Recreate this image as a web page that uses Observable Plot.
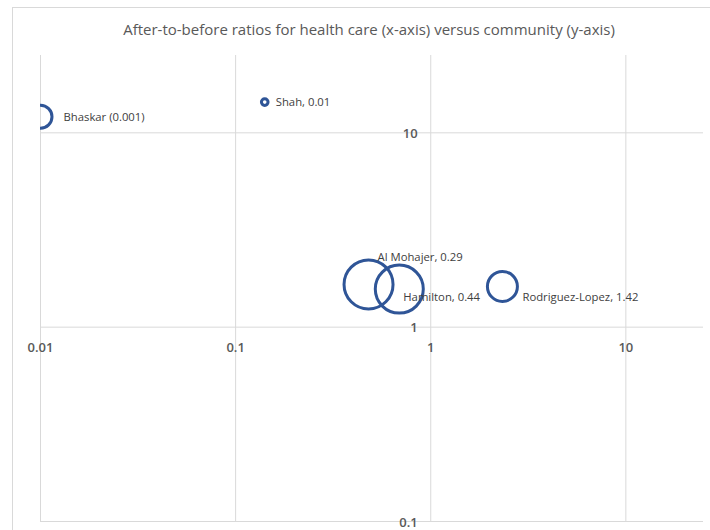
<!DOCTYPE html>
<html>
<head>
<meta charset="utf-8">
<script src="https://cdn.jsdelivr.net/npm/d3@7"></script>
<script src="https://cdn.jsdelivr.net/npm/@observablehq/plot@0.6"></script>
<style>
  html, body { margin: 0; padding: 0; background: #fff; }
  #wrap { position: relative; width: 710px; height: 530px; overflow: hidden; background: #fff; }
  #border { position: absolute; left: 12px; top: 7px; width: 800px; height: 600px; border-left: 1px solid #D9D9D9; border-top: 1px solid #D9D9D9; }
  #title { position: absolute; left: 0; top: 19px; width: 738px; text-align: center; font-family: "Open Sans", sans-serif; font-size: 15px; color: #595959; }
  #chart { position: absolute; left: 0; top: 0; }
</style>
</head>
<body>
<div id="wrap">
  <div id="border"></div>
  <div id="title">After-to-before ratios for health care (x-axis) versus community (y-axis)</div>
  <div id="chart"></div>
</div>
<script>
// Data
const names = ["Bhaskar", "Shah", "Al Mohajer", "Hamilton", "Rodriguez-Lopez"];
const labels = ["Bhaskar (0.001)", "Shah, 0.01", "Al Mohajer, 0.29", "Hamilton, 0.44", "Rodriguez-Lopez, 1.42"];
const healthCare = [0.01, 0.141, 0.48, 0.69, 2.33];   // x
const community = [12.1, 14.4, 1.66, 1.57, 1.62];      // y
const bubbleSize = [1.32, 0.11, 6.0, 5.76, 2.25];

const xTicks = [0.01, 0.1, 1, 10];
const xTickLabels = ["0.01", "0.1", "1", "10"];
const yTicks = [0.1, 1, 10];
const yTickLabels = ["0.1", "1", "10"];

const data = names.map((n, i) => ({name: n, label: labels[i], x: healthCare[i], y: community[i], s: bubbleSize[i]}));

const grid = "#D9D9D9";
const blue = "#2F5597";
const font = "Open Sans, sans-serif";

function lab(name, dx, dy) {
  return Plot.text(data, {filter: d => d.name === name, x: "x", y: "y", text: "label", dx, dy,
    textAnchor: "start", fill: "#404040", fontSize: 11.3});
}

const chart = Plot.plot({
  width: 710,
  height: 530,
  marginLeft: 40,
  marginRight: 7,
  marginTop: 55,
  marginBottom: 9,
  style: {fontFamily: font, background: "transparent", overflow: "visible"},
  x: {type: "log", domain: [0.01, 25], axis: null},
  y: {type: "log", domain: [0.1, 25], axis: null},
  r: {type: "sqrt", domain: [0, 6.0], range: [0, 24.5]},
  marks: [
    Plot.ruleX(xTicks, {stroke: grid, strokeWidth: 1}),
    Plot.ruleY(yTicks, {stroke: grid, strokeWidth: 1}),
    Plot.text(xTicks, {x: d => d, y: 1, dy: 21, text: (d, i) => xTickLabels[i], fill: "#595959", fontSize: 13, fontWeight: 600}),
    Plot.text(yTicks, {x: 1, y: d => d, dx: -13, dy: 1, text: (d, i) => yTickLabels[i], textAnchor: "end", fill: "#595959", fontSize: 13, fontWeight: 600}),
    Plot.dot(data, {x: "x", y: "y", r: "s", stroke: blue, strokeWidth: 3, fill: "none", clip: true}),
    lab("Bhaskar", 23, 1),
    lab("Shah", 11, 0),
    lab("Al Mohajer", 9, -27),
    lab("Hamilton", 4, 8),
    lab("Rodriguez-Lopez", 20, 11)
  ]
});
document.getElementById("chart").appendChild(chart);
</script>
</body>
</html>
